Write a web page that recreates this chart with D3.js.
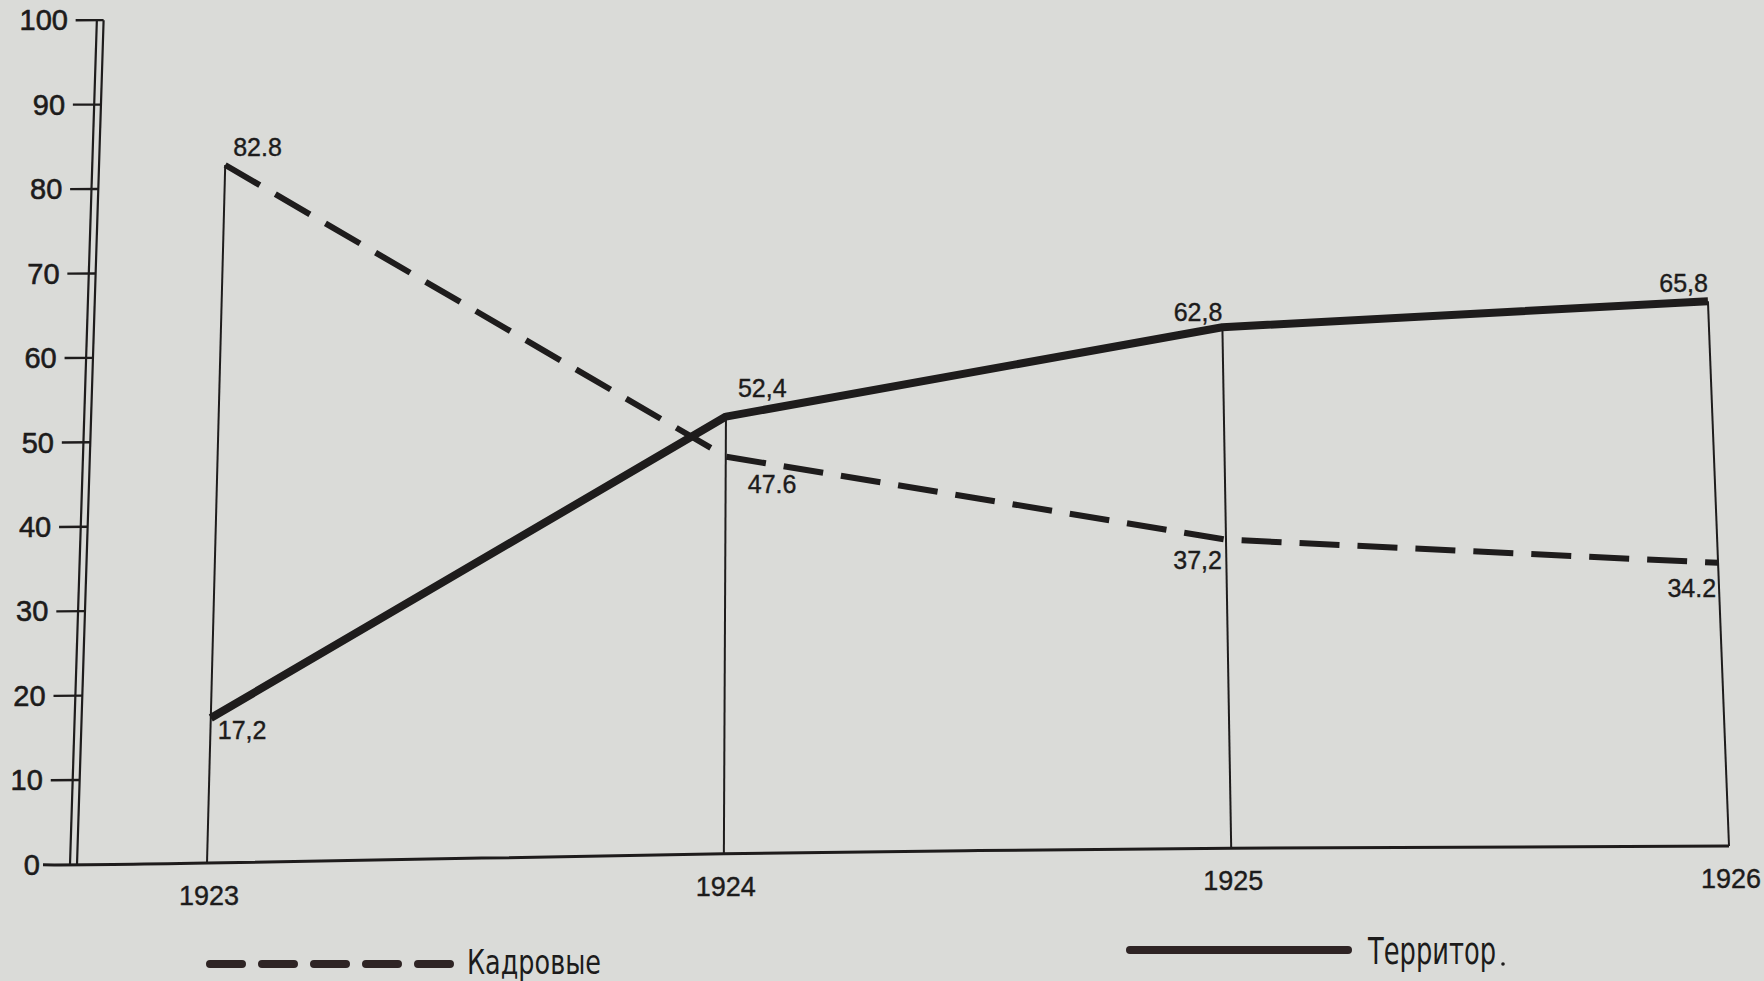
<!DOCTYPE html>
<html>
<head>
<meta charset="utf-8">
<script src="https://cdn.jsdelivr.net/npm/d3@7"></script>
<style>
  html, body { margin: 0; padding: 0; background: #dadbd8; }
  svg { display: block; }
  text { fill: #1c1b1b; }
</style>
</head>
<body>
<div id="chart"></div>
<script>
// data
var years = [1923, 1924, 1925, 1926];
var kadrovye = [82.8, 47.6, 37.2, 34.2];
var territor = [17.2, 52.4, 62.8, 65.8];
var kadLabels = ["82.8", "47.6", "37,2", "34.2"];
var terLabels = ["17,2", "52,4", "62,8", "65,8"];
var yTicks = [0, 10, 20, 30, 40, 50, 60, 70, 80, 90, 100];
var seriesNames = ["Кадровые", "Территор"];

var width = 1764, height = 981;
var ink = "#1e1c1c";
var numFont = "'Liberation Sans', Arial, sans-serif";
var legFont = "'Liberation Sans Narrow', 'DejaVu Sans Condensed', sans-serif";

var svg = d3.select("#chart").append("svg")
    .attr("width", width)
    .attr("height", height);

var x = d3.scaleLinear().domain([1923, 1926]).range([207, 1729]);
var y = d3.scaleLinear().domain([0, 100]).range([863, 20]);

// the page was photographed at a slight angle: top edge narrower,
// baseline tilted and a little bowed
function proj(px, py) {
    var t = (px - 207) / 1522,
        h = (863 - py) / 843,
        bow = Math.sin(Math.PI * Math.max(0, Math.min(1, t)));
    return [px + h * (22 - 54 * t) + 11 * bow,
            (863 - 17 * t) - h * (843 - 15 * t) - 4 * bow * (1 - h)];
}

// y axis: double line with ticks
var axisPx = 70;
[axisPx, axisPx + 7].forEach(function(ax) {
    var a = proj(ax, y(0)), b = proj(ax, y(100));
    svg.append("line")
        .attr("x1", a[0]).attr("y1", a[1])
        .attr("x2", b[0]).attr("y2", b[1])
        .attr("stroke", ink).attr("stroke-width", 2.2);
});

var yg = svg.append("g");
yg.selectAll("line")
    .data(yTicks.filter(d => d > 0))
    .join("line")
    .attr("x1", d => proj(axisPx - 22, y(d))[0])
    .attr("y1", d => proj(axisPx - 22, y(d))[1])
    .attr("x2", d => proj(axisPx + 7, y(d))[0])
    .attr("y2", d => proj(axisPx + 7, y(d))[1])
    .attr("stroke", ink).attr("stroke-width", 2.4);
yg.selectAll("text")
    .data(yTicks)
    .join("text")
    .attr("x", d => proj(axisPx - 30, y(d))[0])
    .attr("y", d => proj(axisPx - 30, y(d))[1] + 10)
    .attr("text-anchor", "end")
    .attr("stroke", ink).attr("stroke-width", 0.6)
    .style("font-family", numFont)
    .style("font-size", "29px")
    .text(d => d);

// baseline
var b0 = proj(43, y(0)), bm = proj(x(1924.5), y(0)), b1 = proj(x(1926), y(0));
svg.append("path")
    .attr("d", d3.line().curve(d3.curveNatural)([b0, proj(x(1923), y(0)), proj(x(1924), y(0)), bm, proj(x(1925), y(0)), b1]))
    .attr("fill", "none")
    .attr("stroke", ink).attr("stroke-width", 3);

// verticals from the upper value of each year
svg.append("g").selectAll("line")
    .data(years)
    .join("line")
    .attr("x1", d => proj(x(d), y(0))[0])
    .attr("y1", d => proj(x(d), y(0))[1])
    .attr("x2", (d, i) => proj(x(d), y(Math.max(kadrovye[i], territor[i])))[0])
    .attr("y2", (d, i) => proj(x(d), y(Math.max(kadrovye[i], territor[i])))[1])
    .attr("stroke", ink).attr("stroke-width", 2);

// x labels
svg.append("g").selectAll("text")
    .data(years)
    .join("text")
    .attr("x", d => proj(x(d), y(0))[0] + 2)
    .attr("y", d => proj(x(d), y(0))[1] + 42)
    .attr("text-anchor", "middle")
    .attr("stroke", ink).attr("stroke-width", 0.4)
    .style("font-family", numFont)
    .style("font-size", "27px")
    .text(d => d);

var line = d3.line()
    .x((d, i) => proj(x(years[i]), y(d))[0])
    .y((d, i) => proj(x(years[i]), y(d))[1]);

svg.append("path")
    .datum(kadrovye)
    .attr("d", line)
    .attr("fill", "none")
    .attr("stroke", ink)
    .attr("stroke-width", 6)
    .attr("stroke-dasharray", "40,18");

svg.append("path")
    .datum(territor)
    .attr("d", line)
    .attr("fill", "none")
    .attr("stroke", ink)
    .attr("stroke-width", 8)
    .attr("stroke-linejoin", "round");

// value labels (offset from the point: dx, dy, anchor)
var kadPos = [[8, -9, "start"], [22, 36, "start"], [-4, 29, "end"], [-2, 34, "end"]];
var terPos = [[7, 21, "start"], [12, -20, "start"], [0, -6, "end"], [0, -9, "end"]];

function valueLabels(vals, labels, pos) {
    svg.append("g").selectAll("text")
        .data(vals)
        .join("text")
        .attr("x", (d, i) => proj(x(years[i]), y(d))[0] + pos[i][0])
        .attr("y", (d, i) => proj(x(years[i]), y(d))[1] + pos[i][1])
        .attr("text-anchor", (d, i) => pos[i][2])
        .attr("stroke", ink).attr("stroke-width", 0.4)
        .style("font-family", numFont)
        .style("font-size", "25px")
        .text((d, i) => labels[i]);
}
valueLabels(kadrovye, kadLabels, kadPos);
valueLabels(territor, terLabels, terPos);

// legend
var legend = svg.append("g");
legend.append("line")
    .attr("x1", 210).attr("x2", 452)
    .attr("y1", 964).attr("y2", 964)
    .attr("stroke", "#2e2424").attr("stroke-width", 8)
    .attr("stroke-linecap", "round")
    .attr("stroke-dasharray", "32,20");
legend.append("text")
    .attr("x", 467).attr("y", 974)
    .attr("textLength", 134).attr("lengthAdjust", "spacingAndGlyphs")
    .style("font-family", legFont)
    .style("font-size", "33px")
    .text(seriesNames[0]);

legend.append("line")
    .attr("x1", 1130).attr("x2", 1348)
    .attr("y1", 950).attr("y2", 950)
    .attr("stroke", "#2e2424").attr("stroke-width", 8)
    .attr("stroke-linecap", "round");
legend.append("text")
    .attr("x", 1368).attr("y", 964)
    .attr("textLength", 128).attr("lengthAdjust", "spacingAndGlyphs")
    .style("font-family", legFont)
    .style("font-size", "37px")
    .text(seriesNames[1]);
legend.append("circle")
    .attr("cx", 1503).attr("cy", 964)
    .attr("r", 1.8)
    .attr("fill", ink);
</script>
</body>
</html>
